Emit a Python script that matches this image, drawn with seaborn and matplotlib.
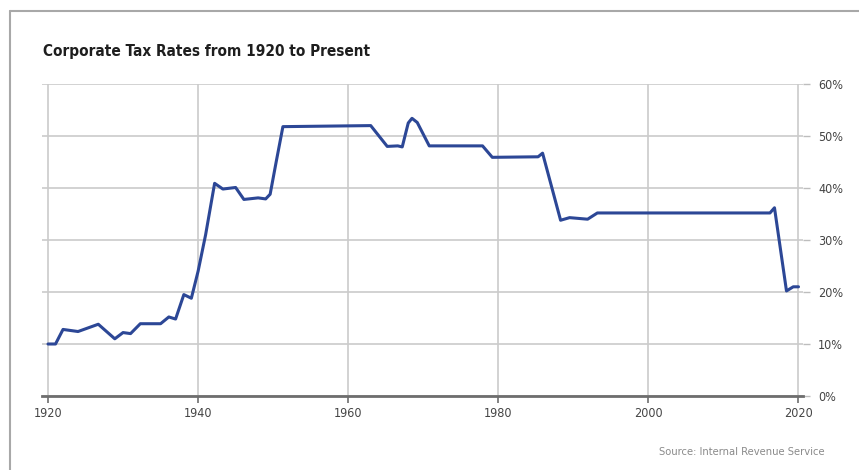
import matplotlib
matplotlib.use("Agg")
import matplotlib.pyplot as plt
from matplotlib.lines import Line2D
from matplotlib.ticker import FuncFormatter
import seaborn as sns
import pandas as pd

# Top corporate income tax rate (%), by year
years = [1920, 1921, 1922, 1924, 1926.7, 1928.9, 1930, 1931, 1932.3, 1935,
         1936.1, 1937, 1938.1, 1939.1, 1940, 1941, 1942.2, 1943.3, 1945,
         1946.1, 1948, 1949, 1949.6, 1950.4, 1951.3, 1963, 1965.2, 1966.6,
         1967.2, 1968.0, 1968.5, 1969.2, 1970.8, 1977.9, 1979.2, 1985.3,
         1985.9, 1988.3, 1989.5, 1991.9, 1993.2, 2016.2, 2016.8, 2018.4,
         2019.3, 2020]
rates = [10, 10, 12.8, 12.4, 13.8, 11, 12.2, 12, 13.9, 13.9,
         15.2, 14.8, 19.5, 18.8, 24, 31, 40.9, 39.8, 40.1,
         37.8, 38.1, 37.9, 38.8, 45, 51.8, 52.0, 48, 48.1,
         47.9, 52.5, 53.4, 52.6, 48.1, 48.1, 45.9, 46,
         46.7, 33.8, 34.3, 34, 35.2, 35.2, 36.2, 20.2,
         21, 21]

x_ticks = [1920, 1940, 1960, 1980, 2000, 2020]
y_ticks = [0, 10, 20, 30, 40, 50, 60]

title = "Corporate Tax Rates from 1920 to Present"
source = "Source: Internal Revenue Service"

df = pd.DataFrame({"year": years, "rate": rates})

sns.set_theme(style="white")
plt.rcParams["font.family"] = ["DejaVu Sans"]
plt.rcParams["font.stretch"] = "condensed"

fig = plt.figure(figsize=(8.59, 4.70), dpi=100)
fig.patch.set_facecolor("white")
ax = fig.add_axes([42 / 859, 74 / 470, 761 / 859, 312 / 470])

# grid
for yv in y_ticks:
    ax.axhline(yv, color="#cbcbcb", lw=1.2, zorder=0)
for xv in x_ticks:
    ax.axvline(xv, color="#cbcbcb", lw=1.2, zorder=0)

sns.lineplot(data=df, x="year", y="rate", ax=ax, estimator=None,
             color="#2c4796", lw=2.2, solid_joinstyle="round",
             solid_capstyle="round", zorder=3)

ax.set_xlim(1919.2, 2020.6)
ax.set_ylim(0, 60)
ax.set_xticks(x_ticks)
ax.set_yticks(y_ticks)
ax.yaxis.tick_right()
ax.yaxis.set_major_formatter(FuncFormatter(lambda v, p: f"{int(v)}%"))
ax.set_xlabel("")
ax.set_ylabel("")

for s in ["top", "left", "right"]:
    ax.spines[s].set_visible(False)
ax.spines["bottom"].set_color("#6e6e6e")
ax.spines["bottom"].set_linewidth(2.0)

ax.tick_params(axis="x", bottom=True, length=5, width=1.2, color="#6e6e6e",
               pad=3, labelsize=9, labelcolor="#444444")
ax.tick_params(axis="y", right=True, left=False, length=5, width=1.0,
               color="#bdbdbd", pad=6, labelsize=9, labelcolor="#444444")

fig.text(43 / 859, 1 - 52 / 470, title, fontsize=11, fontweight="bold",
         color="#1e1e1e", va="center", ha="left")
fig.text(825 / 859, 1 - 452 / 470, source, fontsize=8, color="#8a8a8a",
         va="center", ha="right")

# outer frame (top and left edges)
fig.add_artist(Line2D([10 / 859, 1.0], [1 - 11 / 470, 1 - 11 / 470],
                      transform=fig.transFigure, color="#a8a8a8", lw=1.5))
fig.add_artist(Line2D([10 / 859, 10 / 859], [0.0, 1 - 11 / 470],
                      transform=fig.transFigure, color="#a8a8a8", lw=1.5))

fig.savefig("out.png", dpi=100)
